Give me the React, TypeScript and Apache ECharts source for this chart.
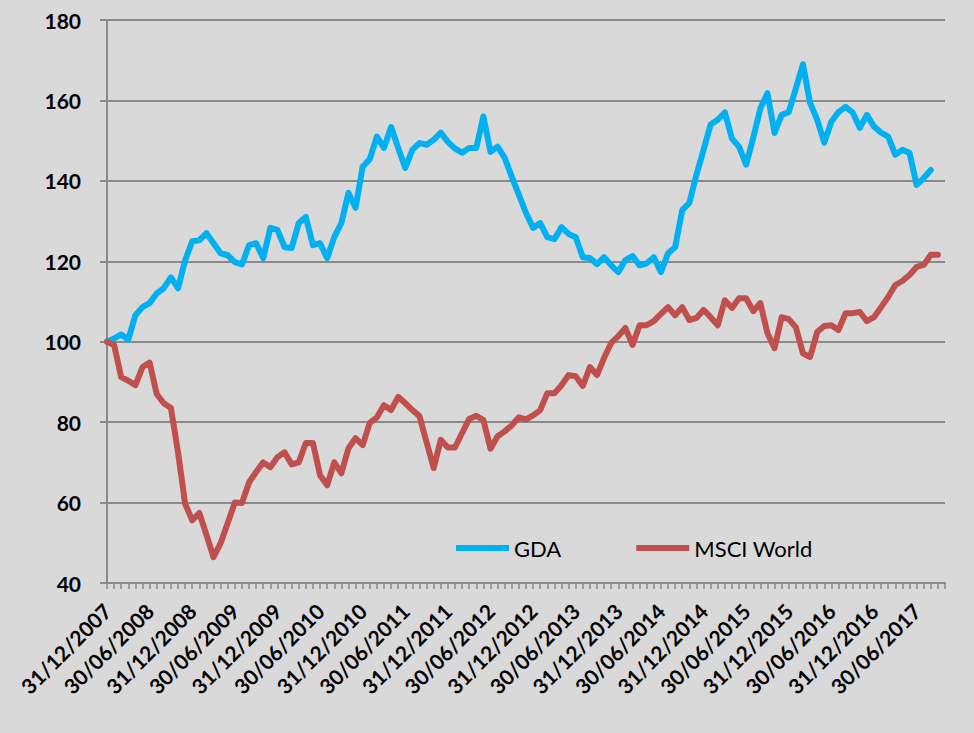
import React, { useEffect, useRef } from "react";
import * as echarts from "echarts";

// Monthly month-end dates, 31/12/2007 .. 31/10/2017 (axis runs one month past the last value)
const FIRST_YEAR = 2007;
const FIRST_MONTH = 12;
const MONTH_COUNT = 119;
const LABEL_EVERY = 6;

function buildCategories(): string[] {
  const out: string[] = [];
  for (let k = 0; k < MONTH_COUNT; k++) {
    const m0 = FIRST_MONTH - 1 + k;
    const y = FIRST_YEAR + Math.floor(m0 / 12);
    const m = (m0 % 12) + 1;
    const d = new Date(Date.UTC(y, m, 0)).getUTCDate();
    out.push(`${String(d).padStart(2, "0")}/${String(m).padStart(2, "0")}/${y}`);
  }
  return out;
}
const categories = buildCategories();

const gdaValues = [
  100, 100.8, 101.8, 100.5, 106.6, 108.6, 109.6, 112, 113.3, 116,
  113.3, 120.2, 125, 125.2, 127, 124.5, 122, 121.5, 119.8, 119.2,
  124, 124.5, 120.8, 128.3, 127.8, 123.5, 123.3, 129.5, 131, 124,
  124.5, 120.8, 126, 129.5, 137, 133.3, 143.5, 145.4, 151, 148.2,
  153.4, 148.2, 143.2, 147.7, 149.4, 149, 150.2, 152, 149.7, 148,
  147, 148.2, 148.2, 156, 147.2, 148.5, 145.7, 141, 136.5, 132,
  128.3, 129.5, 126, 125.5, 128.5, 126.8, 126, 121, 120.8, 119.3,
  121, 119, 117.3, 120.3, 121.3, 119, 119.5, 121, 117.3, 122,
  123.5, 132.7, 134.5, 141.5, 147.7, 154, 155.2, 157, 150.5, 148.5,
  144, 150.7, 158, 161.8, 151.9, 156.4, 157.1, 163, 169, 159.4,
  155.2, 149.5, 154.7, 157.1, 158.4, 157, 153.2, 156.4, 153.5, 152,
  151, 146.5, 147.7, 147, 139, 140.7, 142.7,
];

const msciWorldValues = [
  100, 99.2, 91.2, 90.3, 89.2, 93.7, 94.8, 87, 84.7, 83.5,
  72.5, 59.7, 55.6, 57.4, 52, 46.4, 49.9, 54.9, 60, 59.9,
  65, 67.6, 70, 68.8, 71.3, 72.5, 69.5, 70, 74.8, 74.8,
  66.8, 64.3, 70, 67.3, 73.5, 76, 74.3, 79.8, 81.2, 84.2,
  83, 86.3, 84.7, 83, 81.5, 75, 68.6, 75.6, 73.7, 73.7,
  77.3, 80.8, 81.6, 80.5, 73.4, 76.5, 77.7, 79.2, 81.2, 80.7,
  81.7, 83, 87.2, 87.2, 89.2, 91.7, 91.4, 89, 93.7, 91.7,
  96, 99.7, 101.4, 103.4, 99.2, 104.1, 104.1, 105.1, 106.9, 108.6,
  106.6, 108.6, 105.4, 105.9, 107.9, 106.1, 104.1, 110.3, 108.4, 110.8,
  110.8, 107.6, 109.6, 102.1, 98.4, 106.1, 105.6, 103.6, 97.1, 96.2,
  102.4, 103.9, 104.1, 102.9, 107.1, 107.1, 107.4, 105.1, 106.1, 108.6,
  111.1, 114.1, 115.1, 116.6, 118.6, 119.1, 121.6, 121.6,
];

const seriesNames = ["GDA", "MSCI World"];
const Y_MIN = 40;
const Y_MAX = 180;
const Y_STEP = 20;

export default function App() {
  const ref = useRef<HTMLDivElement>(null);

  useEffect(() => {
    if (!ref.current) return;
    const chart = echarts.init(ref.current, null, { renderer: "svg" });
    const gray = "#898989";
    chart.setOption({
      animation: false,
      backgroundColor: "#d9d9d9",
      grid: { left: 107, right: 29, top: 20, bottom: 150, containLabel: false },
      legend: {
        data: seriesNames,
        left: 451,
        top: 532,
        itemWidth: 53,
        itemHeight: 6,
        itemGap: 75,
        icon: "rect",
        textStyle: { fontFamily: "Lato", fontSize: 22, color: "#000" },
      },
      xAxis: {
        type: "category",
        data: categories,
        boundaryGap: false,
        axisLine: { show: true, lineStyle: { color: gray, width: 2 } },
        axisTick: { show: true, interval: 0, length: 6, lineStyle: { color: gray, width: 1.5 } },
        axisLabel: {
          interval: (idx: number) => idx % LABEL_EVERY === 0,
          rotate: 45,
          margin: 24,
          fontFamily: "Lato",
          fontWeight: "bold",
          fontSize: 21,
          color: "#000",
        },
        splitLine: { show: false },
      },
      yAxis: {
        type: "value",
        min: Y_MIN,
        max: Y_MAX,
        interval: Y_STEP,
        axisLine: { show: true, lineStyle: { color: gray, width: 2 } },
        axisTick: { show: true, length: 7, lineStyle: { color: gray, width: 2 } },
        axisLabel: {
          margin: 26,
          fontFamily: "Lato",
          fontWeight: "bold",
          fontSize: 21,
          color: "#000",
        },
        splitLine: { show: true, lineStyle: { color: gray, width: 2 } },
      },
      series: [
        {
          name: seriesNames[0],
          type: "line",
          data: gdaValues,
          showSymbol: false,
          symbol: "none",
          color: "#00b0f0",
          lineStyle: { color: "#00b0f0", width: 6, cap: "round", join: "round" },
        },
        {
          name: seriesNames[1],
          type: "line",
          data: msciWorldValues,
          showSymbol: false,
          symbol: "none",
          color: "#c0504d",
          lineStyle: { color: "#c0504d", width: 6, cap: "round", join: "round" },
        },
      ],
    });
    return () => chart.dispose();
  }, []);

  return (
    <div
      ref={ref}
      style={{ position: "fixed", left: 0, top: 0, width: 974, height: 733 }}
    />
  );
}
